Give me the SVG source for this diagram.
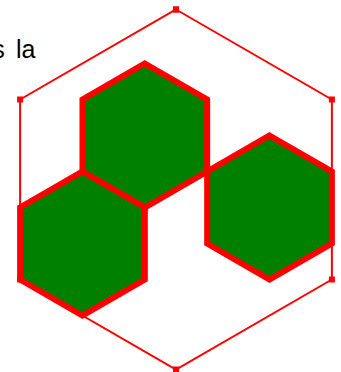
<svg xmlns="http://www.w3.org/2000/svg" width="341" height="372" viewBox="0 0 341 372">
<style>
.big{fill:none;stroke:#ff0000;stroke-width:2;marker-start:url(#sq);marker-mid:url(#sq);marker-end:url(#sq)}
.hex{fill:#008000;stroke:#ff0000;stroke-width:6;stroke-linejoin:miter}
.lbl{font-family:"Liberation Sans",Arial,sans-serif;font-size:25px;fill:#000}
</style>
<defs>
<marker id="sq" markerUnits="userSpaceOnUse" markerWidth="6" markerHeight="6" refX="3" refY="3" orient="0" overflow="visible">
<rect x="0" y="0" width="6" height="6" fill="#ff0000"/>
</marker>
</defs>
<text class="lbl" x="-7.8" y="57.7" word-spacing="4.3">s la</text>
<g id="connectors">
<path id="outer" class="big" d="M176,9.5 L331.885,99.5 L331.885,279.5 L176,369.5 L20.115,279.5 L20.115,99.5 Z"/>
</g>
<g id="hex-top">
<polygon class="hex" points="144.823,63.5 207.177,99.5 207.177,171.5 144.823,207.5 82.469,171.5 82.469,99.5"/>
</g>
<g id="hex-left">
<polygon class="hex" points="82.469,171.5 144.823,207.5 144.823,279.5 82.469,315.5 20.115,279.5 20.115,207.5"/>
</g>
<g id="hex-right">
<polygon class="hex" points="269.531,135.5 331.885,171.5 331.885,243.5 269.531,279.5 207.177,243.5 207.177,171.5"/>
</g>
</svg>
